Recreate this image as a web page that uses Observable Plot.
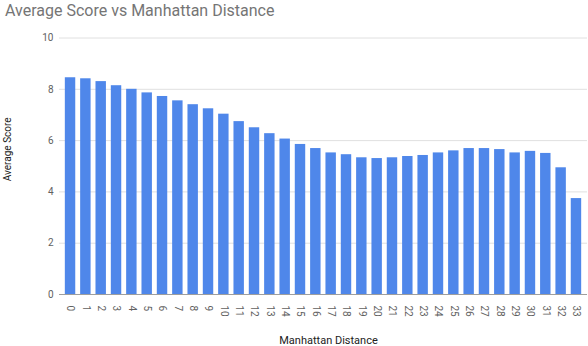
<!DOCTYPE html>
<html>
<head>
<meta charset="utf-8">
<script src="https://cdn.jsdelivr.net/npm/d3@7"></script>
<script src="https://cdn.jsdelivr.net/npm/@observablehq/plot@0.6"></script>
<style>
  html, body { margin: 0; padding: 0; background: #fff; }
  #title { font-family: Roboto, sans-serif; font-size: 16px; color: #757575; height: 24px; line-height: 21px; padding-left: 5px; white-space: nowrap; }
  svg { display: block; }
</style>
</head>
<body>
<div id="title"></div>
<div id="chart"></div>
<script>
const chartTitle = "Average Score vs Manhattan Distance";
const xTitle = "Manhattan Distance";
const yTitle = "Average Score";
const distances = [0,1,2,3,4,5,6,7,8,9,10,11,12,13,14,15,16,17,18,19,20,21,22,23,24,25,26,27,28,29,30,31,32,33];
const scores = [8.45,8.41,8.30,8.14,8.00,7.86,7.72,7.55,7.40,7.24,7.03,6.74,6.50,6.27,6.06,5.85,5.69,5.52,5.45,5.33,5.30,5.33,5.38,5.42,5.52,5.60,5.69,5.69,5.65,5.52,5.58,5.50,4.94,3.74];
const yTicks = [0,2,4,6,8,10];

const data = distances.map((d, i) => ({d, s: scores[i]}));
document.getElementById("title").textContent = chartTitle;

const chart = Plot.plot({
  width: 588, height: 322,
  marginTop: 13.5, marginBottom: 52, marginLeft: 59, marginRight: 1,
  style: {fontFamily: "Roboto, sans-serif", fontSize: "10px", color: "#616161", background: "#fff"},
  x: {type: "band", domain: distances, paddingInner: 0.32, paddingOuter: 0.38, round: false, label: null},
  y: {domain: [0, 10], label: null},
  marks: [
    Plot.ruleY(yTicks, {stroke: "#e0e0e0"}),
    Plot.barY(data, {x: "d", y: "s", fill: "#4f87ea"}),
    Plot.ruleY([0], {stroke: "#9e9e9e"}),
    Plot.axisY({ticks: yTicks, tickSize: 0, tickPadding: 6, label: null}),
    Plot.axisX({tickSize: 0, tickPadding: 11, tickRotate: 90, label: null}),
    Plot.text([xTitle], {text: d => d, frameAnchor: "bottom", lineAnchor: "bottom", dy: 49, dx: 5, fill: "#222", fontSize: 11}),
    Plot.text([yTitle], {text: d => d, frameAnchor: "left", rotate: -90, dx: -52, dy: 15, fill: "#222", fontSize: 10})
  ]
});
document.getElementById("chart").appendChild(chart);
</script>
</body>
</html>
